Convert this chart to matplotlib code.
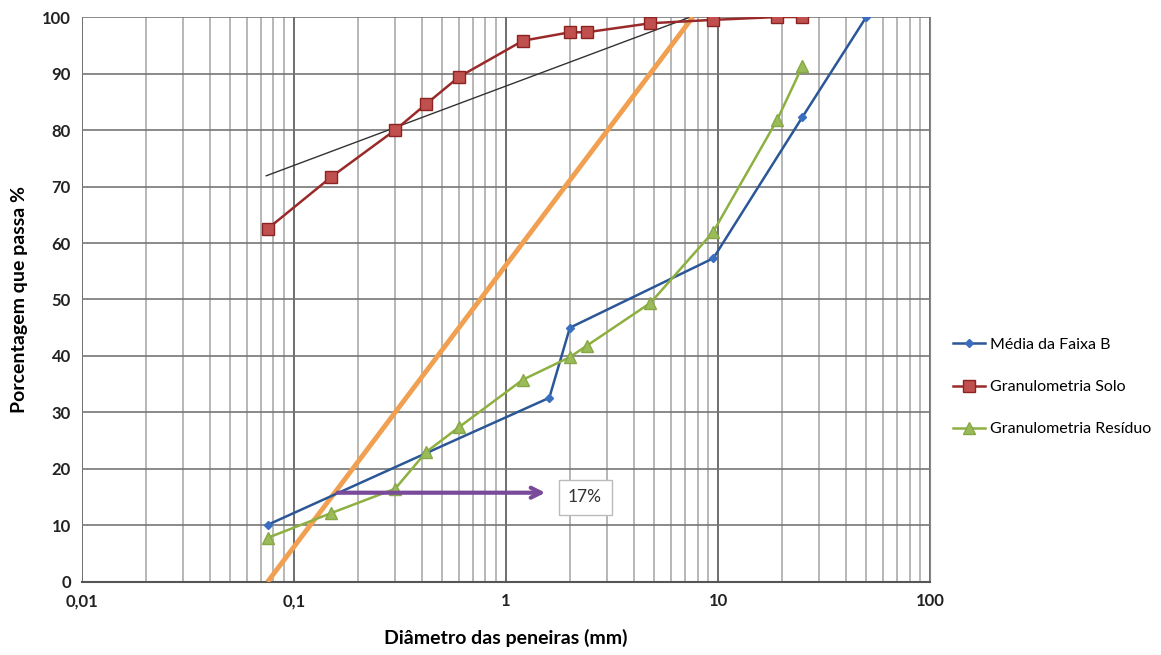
import matplotlib
matplotlib.use('Agg')
import matplotlib.pyplot as plt
from matplotlib.ticker import FixedLocator, LogLocator, NullFormatter

plt.rcParams['font.family'] = ['Lato', 'DejaVu Sans']

# peneiras (mm)
d_faixa = [0.075, 0.42, 1.6, 2.0, 9.5, 25, 50]
p_faixa = [10.1, 22.8, 32.6, 45.0, 57.3, 82.3, 100]

d_solo = [0.075, 0.15, 0.3, 0.42, 0.6, 1.2, 2.0, 2.4, 4.8, 9.5, 19, 25]
p_solo = [62.5, 71.7, 80.0, 84.6, 89.4, 95.8, 97.3, 97.3, 98.9, 99.5, 100, 100]

d_res = [0.075, 0.15, 0.3, 0.42, 0.6, 1.2, 2.0, 2.4, 4.8, 9.5, 19, 25]
p_res = [7.8, 12.2, 16.5, 23.0, 27.4, 35.8, 39.8, 41.8, 49.4, 62.0, 81.8, 91.3]

# retas auxiliares
tang_x = [0.074, 7.4]
tang_y = [71.9, 100]
reta_x = [0.075, 7.6]
reta_y = [0, 100]
seta_x = [0.156, 1.58]
seta_y = 15.8
rotulo = '17%'

fig = plt.figure(figsize=(11.61, 6.55), dpi=100)
ax = fig.add_axes([0.0706, 0.1115, 0.7305, 0.8625])

ax.plot(d_faixa, p_faixa, color='#2B5797', lw=1.8, marker='D', ms=4.5,
        mfc='#3A6FC0', mec='#3A6FC0', label='Média da Faixa B', zorder=4)
ax.plot(d_solo, p_solo, color='#9A2A2A', lw=1.8, marker='s', ms=8,
        mfc='#C0504D', mec='#8B2323', label='Granulometria Solo', zorder=4)
ax.plot(d_res, p_res, color='#8DB040', lw=1.8, marker='^', ms=8,
        mfc='#9BBB59', mec='#86A845', label='Granulometria Resíduo', zorder=4)

ax.plot(tang_x, tang_y, color='#333333', lw=1.0, zorder=3)
ax.plot(reta_x, reta_y, color='#F0A050', lw=3.5, zorder=3, solid_capstyle='butt')

ax.annotate('', xy=(seta_x[1], seta_y), xytext=(seta_x[0], seta_y),
            arrowprops=dict(arrowstyle='->', color='#7A4A9A', lw=3,
                            mutation_scale=18), zorder=5)
ax.text(2.36, 15.0, rotulo, fontsize=12.5, ha='center', va='center', color='#333333',
        bbox=dict(boxstyle='square,pad=0.55', fc='white', ec='#BBBBBB', lw=1), zorder=6)

ax.set_xscale('log')
ax.set_xlim(0.01, 100)
ax.set_ylim(0, 100)
ax.xaxis.set_major_locator(FixedLocator([0.01, 0.1, 1, 10, 100]))
ax.xaxis.set_minor_locator(LogLocator(base=10, subs=range(2, 10)))
ax.xaxis.set_minor_formatter(NullFormatter())
ax.set_xticklabels(['0,01', '0,1', '1', '10', '100'])
ax.set_yticks(range(0, 101, 10))

ax.grid(which='major', axis='x', color='#555555', lw=1.2)
ax.grid(which='minor', axis='x', color='#AAAAAA', lw=1.2)
ax.grid(which='major', axis='y', color='#777777', lw=1.2)
ax.set_axisbelow(True)

ax.tick_params(which='both', length=0, labelsize=12, pad=8, colors='#222222')
for lab in ax.get_xticklabels() + ax.get_yticklabels():
    lab.set_fontweight('bold')

for s in ['top', 'left']:
    ax.spines[s].set_visible(False)
ax.spines['right'].set_color('#888888')
ax.spines['bottom'].set_color('#555555')
ax.spines['bottom'].set_linewidth(1.5)

ax.set_xlabel('Diâmetro das peneiras (mm)', fontsize=14, fontweight='bold', labelpad=14)
ax.set_ylabel('Porcentagem que passa %', fontsize=14, fontweight='bold', labelpad=10)

ax.legend(loc='center left', bbox_to_anchor=(1.01, 0.345), frameon=False,
          fontsize=11.5, handlelength=2.0, handletextpad=0.3, labelspacing=1.75)

fig.savefig('out.png', dpi=100)
